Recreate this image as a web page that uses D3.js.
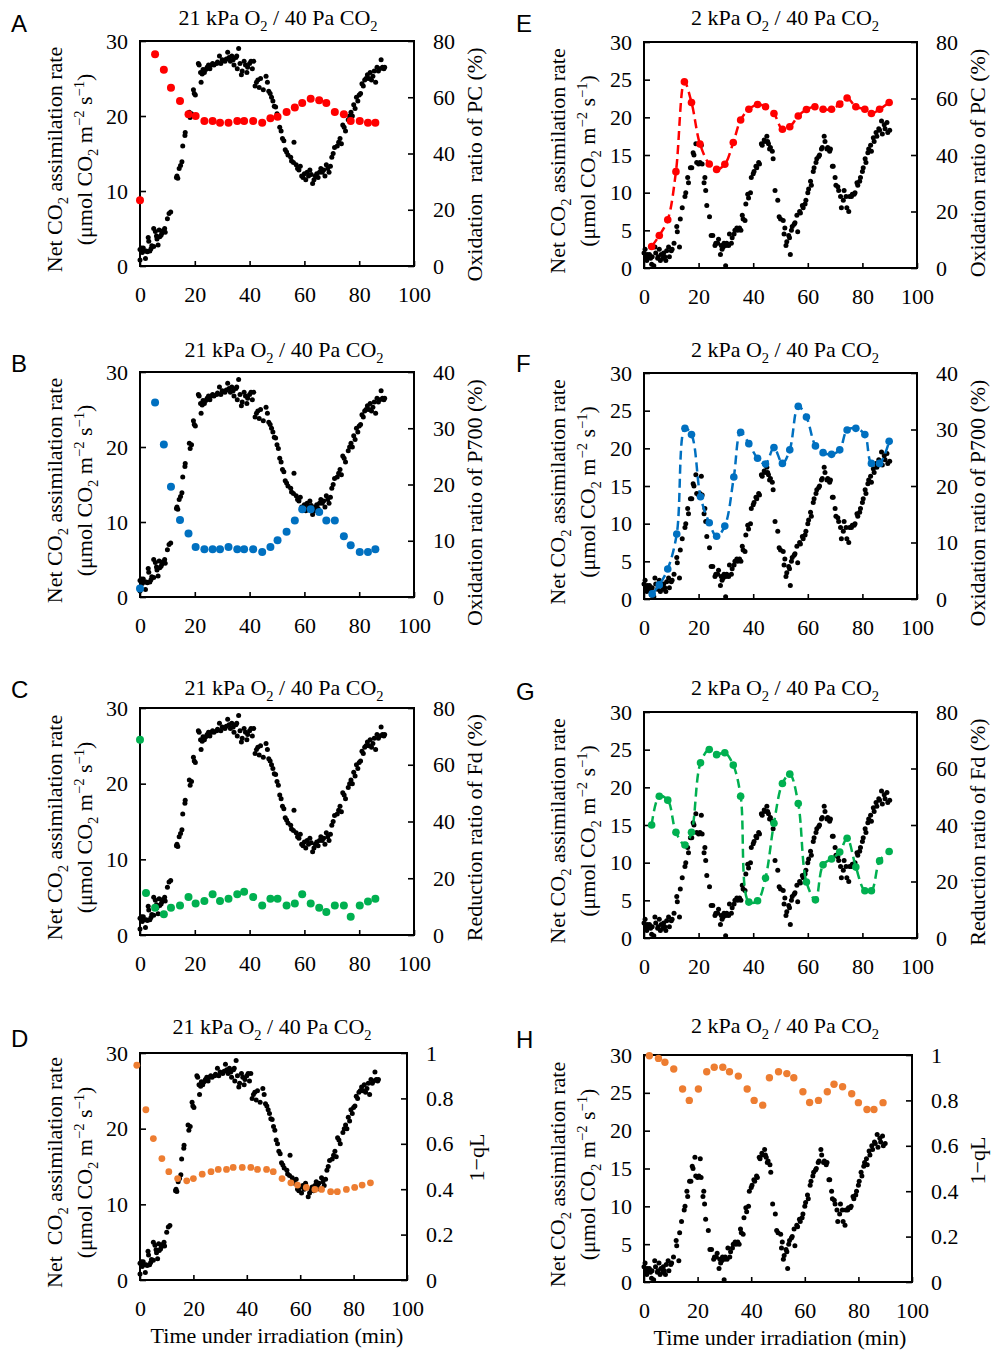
<!DOCTYPE html>
<html><head><meta charset="utf-8">
<script src="https://cdn.jsdelivr.net/npm/d3@7"></script>
<style>
body{margin:0;background:#fff}
svg{display:block}
text{font-family:"Liberation Serif","Times New Roman",serif;fill:#000;white-space:pre}
</style>
</head><body>
<svg id="c" width="1000" height="1355"></svg>
<script>
// ---------------- DATA ----------------
// Net CO2 assimilation, 21 kPa O2 (time min, µmol m-2 s-1)
const co2Air = [[0,0.8],[0,2.2],[0.5,2.4],[0.8,1.8],[1.2,2.4],[1.5,2.0],[2,1.0],[2.3,2.0],[2.7,1.9],[3,3.8],[3.2,3.3],[3.6,2.0],[4,2.3],[4.3,2.7],[5,5.0],[5,2.6],[5.6,4.6],[6,4.0],[6.2,3.6],[6.6,2.8],[7,4.8],[7.2,3.9],[7.7,4.1],[8,4.4],[8.4,4.7],[9,5.0],[9.2,4.5],[10,6.3],[10.6,7.0],[11.2,7.2],
[13.3,11.8],[13.5,12.0],[13.8,11.7],[14.3,13.0],[14.8,13.4],[15.3,13.9],[15.6,16.0],[16.4,17.4],[16.5,17.8],[18,20.5],[18.3,19.8],[18.8,20.3],[19.5,23.5],[19.8,23.0],[20.2,22.8],[21.3,27.0],[21.6,26.8],[22.1,25.8],[22.3,24.5],[22.7,25.6],[23,26.2],
[23.5,25.8],[24,26.2],[24.5,26.5],[25,26.8],[25.5,26.3],[26,26.8],[26.5,27.0],[27,26.8],[28,27.0],[28.3,27.2],[29,28.0],[29.5,27.0],[30,27.5],[31,27.3],[31.5,27.6],[32,28.5],[32.5,27.8],[33,27.3],[33.5,28.0],[34,27.5],[34.3,26.8],[35,27.8],[35.3,28.0],[35.5,26.3],[36,29.0],[36.5,27.0],[37,25.5],[37.3,26.0],[38,27.3],[38.5,26.8],[39,25.8],[39.3,26.5],[40,27.0],[40.5,27.3],[41,26.3],[41.5,27.3],
[42,24.0],[42.5,24.5],[43,24.8],[43.5,23.8],[44,25.0],[45,23.5],[46,25.3],[46.5,24.5],[47,23.3],[47.5,23.0],[48,22.5],[48.5,22.0],[49,21.3],[49.5,21.2],[50,20.3],[50.5,19.8],[51,18.5],[51.5,18.0],[52,17.0],[52.5,16.7],[53,15.5],[53.5,15.2],[54,14.8],[55,14.5],[55.3,14.0],[56,13.8],[56.2,16.5],[57,13.5],[57.5,13.0],[58,12.8],[58.5,13.3],[59,12.0],[59.5,11.8],[60,12.3],[60.5,11.5],
[61,12.5],[61.5,12.0],[62,12.8],[62.5,12.2],[63,11.0],[63.5,11.5],[64,12.0],[64.5,12.3],[65,11.8],[65.5,12.5],[66,13.0],[66.5,12.5],[67,12.8],[67.5,12.0],[68,13.5],[68.5,13.0],[69,12.5],[69.5,13.3],[70,14.5],[70.5,15.0],[71,15.8],[72,16.0],[72.5,16.5],[73,17.0],[73.5,16.3],[74,18.8],[74.5,18.5],[75,18.0],
[76,19.5],[76.5,20.0],[77,20.5],[77.5,20.0],[78,21.5],[78.5,21.0],[79,22.5],[79.5,22.0],[80,22.8],[80.5,23.0],[81,24.3],[81.5,24.0],[82,24.8],[82.5,25.0],[83,25.5],[83.5,25.0],[84,25.8],[84.5,24.8],[85,25.3],[85.5,26.0],[86,24.5],[86.5,26.5],[87,26.0],[87.5,26.3],[88,27.5],[88.5,26.5],[89,26.3],[89.3,26.5]];

// Net CO2 assimilation, 2 kPa O2
const co2Low = [[0,2.0],[0.4,2.5],[0.6,1.5],[1,1.0],[1.2,1.8],[1.6,1.5],[2,1.8],[2.4,1.3],[2.8,0.5],[3,1.5],[3.6,0.3],[4,2.8],[4.3,2.0],[5,1.3],[5.2,1.5],[5.6,2.5],[6,1.0],[6.3,1.8],[7,1.3],[7.2,2.0],[7.6,1.5],[8,1.0],[8.3,2.3],[9,2.8],[9.3,1.5],[10,2.3],[10.3,2.5],[11,3.3],[12,5.5],[12.2,4.8],[13,2.8],[13.3,6.5],[14,8.0],[15,9.5],[15.3,10.0],[16,12.0],[16.3,11.3],[17,13.3],[17.5,13.3],[18,15.3],[18.3,15.0],[19,16.5],[19.3,14.0],[20,13.8],[20.5,14.0],[21,16.3],[21.3,13.8],[22,11.3],[22.3,12.0],[22.6,10.3],[23,8.3],[24,6.8],[24.6,4.3],[25.2,4.3],[26,3.0],[26.3,3.3],[27,3.3],[27.3,3.8],[28,1.8],[28.3,3.0],[28.6,2.5],[29,2.8],[29.3,3.3],[29.9,0.3],[30,3.0],[30.3,3.3],[31,3.0],[31.3,4.5],[32,3.3],[32.3,4.0],[33,4.5],[33.3,5.0],[34,5.3],[34.3,5.0],[35,5.3],[35.5,5.0],[36,7.0],[36.3,6.5],[37,6.3],[37.3,8.5],[38,9.8],[38.3,9.3],[39,10.0],[39.3,12.0],[40,12.5],[40.3,12.8],[41,13.5],[41.3,13.3],[42,14.0],[42.3,13.8],[43,16.5],[43.3,16.3],[44,17.0],[44.3,16.8],[45,17.5],[45.3,16.8],[45.6,16.5],[46,15.8],[46.3,16.0],[47,15.5],[47.3,14.5],[48,10.3],[49,9.0],[49.5,6.8],[50,6.5],[51,6.3],[51.3,4.5],[51.6,5.3],[52,3.0],[52.3,3.5],[53,4.3],[53.3,4.0],[53.6,1.8],[54,5.0],[54.3,5.5],[55,5.8],[55.3,6.0],[56,7.0],[56.3,4.8],[57,7.5],[57.3,7.3],[58,8.3],[58.3,8.0],[59,8.5],[59.3,9.0],[60,10.0],[60.3,10.5],[61,11.5],[61.3,11.0],[62,12.8],[62.3,13.3],[63,14.0],[63.3,14.5],[64,14.8],[64.3,15.0],[65,15.8],[65.3,16.0],[66,17.5],[66.3,16.8],[67,15.8],[67.3,16.0],[68,15.5],[68.3,15.8],[69,13.5],[69.3,13.5],[70,12.0],[70.3,11.0],[71,10.8],[71.3,10.3],[72,9.5],[72.3,8.0],[73,9.0],[73.3,10.3],[74,9.5],[74.3,8.0],[75,7.5],[75.3,9.5],[76,9.5],[76.3,9.8],[77,9.8],[77.3,10.0],[78,11.3],[78.3,11.0],[79,11.5],[79.3,12.0],[80,12.8],[80.3,13.3],[81,14.5],[81.3,14.0],[82,15.3],[82.3,15.8],[83,16.3],[83.3,15.5],[84,17.3],[84.3,16.8],[85,18.0],[85.3,17.5],[86,18.5],[86.3,18.3],[87,19.5],[87.3,17.8],[88,19.0],[88.3,18.5],[89,19.3],[89.3,18.0],[90,18.3]];

// Oxidation ratio of PC (%)
const pcAir = [[0,23.4],[5.5,75.3],[8.7,69.8],[11.3,63.4],[14.6,58.7],[17.7,54.0],[20.3,53.3],[23.5,51.6],[26.5,51.6],[29.2,50.9],[32.3,50.9],[35.5,51.6],[38,51.6],[41.3,51.6],[44.6,50.9],[47.6,52.5],[50.2,53.1],[53.5,54.8],[56.5,56.4],[59.2,58.0],[62.3,59.5],[65.4,58.9],[68,58.0],[71.1,54.8],[74.4,54.0],[76.9,51.6],[80.2,51.6],[83.2,50.9],[85.9,50.9]];
const pcLow = [[2.8,7.6],[5.6,11.5],[8.7,17.1],[11.7,34.1],[14.8,65.9],[17.4,58.6],[20.5,43.9],[23.9,36.8],[26.6,34.9],[29.6,36.7],[32.7,44.4],[35.4,52.4],[38.4,56.2],[41.6,57.9],[44.5,57.1],[47.6,54.7],[50.7,49.1],[53.4,50.0],[56.5,53.8],[59.5,56.1],[62.6,57.1],[65.6,56.2],[68.7,56.2],[71.7,58.0],[74.4,60.2],[77.6,57.1],[80.9,56.2],[83.3,54.7],[86.3,56.2],[89.8,58.6]];

// Oxidation ratio of P700 (%)
const p700Air = [[0,1.5],[5.5,34.6],[8.7,27.1],[11.3,19.6],[14.6,13.7],[17.7,11.3],[20.3,8.9],[23.5,8.5],[26.5,8.5],[29.2,8.5],[32.3,8.9],[35.5,8.5],[38,8.5],[41.3,8.5],[44.6,8.0],[47.6,8.9],[50.2,10.1],[53.5,11.6],[56.5,13.6],[59.2,15.6],[62.3,15.6],[65.4,15.1],[68,13.6],[71.1,13.6],[74.4,10.8],[76.9,9.2],[80.2,8.0],[83.2,8.0],[85.9,8.5]];
const p700Low = [[3,0.9],[5.6,2.5],[8.7,5.3],[12,11.5],[15,30.2],[17.4,29.1],[20.7,18.1],[23.9,13.5],[26.6,11.1],[29.6,12.9],[32.9,21.6],[35.4,29.5],[38.4,27.5],[41.6,24.9],[44.5,23.9],[47.6,26.8],[50.7,24.0],[53.4,26.4],[56.5,34.1],[59.5,32.2],[62.8,27.1],[65.6,25.9],[68.7,25.6],[71.7,26.4],[74.4,29.9],[77.6,30.2],[80.9,29.1],[83.3,24.0],[86.3,24.0],[89.8,27.9]];

// Reduction ratio of Fd (%)
const fdAir = [[0,68.8],[2.2,14.8],[5.5,9.6],[8.7,7.3],[11.3,9.6],[14.6,10.4],[17.7,13.4],[20.3,11.1],[23.5,12.0],[26.5,14.4],[29.2,12.0],[32.3,12.8],[35.5,14.4],[38,15.2],[41.3,13.4],[44.6,10.4],[47.6,12.8],[50.2,12.8],[53.5,10.4],[56.5,11.1],[59.2,14.4],[62.3,11.1],[65.4,9.6],[68,8.1],[71.1,10.4],[74.4,10.4],[76.9,6.4],[80.2,10.4],[83.2,11.8],[85.9,12.8]];
const fdLow = [[2.8,40.0],[5.6,50.2],[8.7,48.8],[11.7,37.4],[15,32.9],[17.4,37.4],[20.7,62.0],[23.9,66.7],[26.6,64.9],[29.6,65.6],[32.7,61.2],[35.4,50.2],[38.4,12.7],[41.6,13.2],[44.5,21.2],[47.6,40.6],[50.7,54.7],[53.4,58.0],[56.5,47.6],[59.5,19.8],[62.8,13.5],[65.6,25.9],[68.7,28.0],[71.7,30.4],[74.4,35.3],[77.6,25.1],[80.9,16.7],[83.3,16.7],[86.3,27.3],[89.8,30.6]];

// 1-qL
const qlAir = [[-1.2,0.946],[2.2,0.75],[5,0.623],[8.2,0.535],[10.8,0.477],[14.1,0.447],[17.5,0.437],[20,0.447],[23.3,0.466],[26.6,0.477],[29.3,0.487],[32.4,0.487],[34.9,0.496],[38.3,0.496],[41.5,0.496],[44,0.487],[47.4,0.487],[49.9,0.477],[53.2,0.447],[56.5,0.428],[59,0.418],[62.3,0.408],[65.5,0.399],[68,0.399],[71.4,0.389],[73.9,0.389],[77.3,0.399],[80.4,0.408],[83.2,0.418],[86.3,0.428]];
const qlLow = [[2,0.997],[5.4,0.985],[7.8,0.968],[11.1,0.938],[14.4,0.85],[16.9,0.8],[20.3,0.85],[23.4,0.926],[26.2,0.946],[29.4,0.946],[31.9,0.926],[35.2,0.907],[38.5,0.85],[41.1,0.8],[44.3,0.779],[46.8,0.9],[50.2,0.926],[53.3,0.918],[55.9,0.9],[59.3,0.838],[61.8,0.791],[65.1,0.8],[68.4,0.838],[70.9,0.871],[74.1,0.86],[77.5,0.829],[80,0.79],[83.2,0.76],[85.8,0.76],[89.2,0.79]];

// Tick values
const xTicks = [0,20,40,60,80,100];
const leftTicksAir = [0,10,20,30];
const leftTicksLow = [0,5,10,15,20,25,30];
const ticks80 = [0,20,40,60,80];
const ticks40 = [0,10,20,30,40];
const ticks1 = [0,0.2,0.4,0.6,0.8,1];

// Labels
const titleAir = "21 kPa O_{2} / 40 Pa CO_{2}";
const titleLow = "2 kPa O_{2} / 40 Pa CO_{2}";
const leftLine1 = "Net CO_{2} assimilation rate";
const leftLine1D = "Net  CO_{2} assimilation rate";
const leftLine2 = "(μmol CO_{2} m^{−2} s^{−1})";
const xTitle = "Time under irradiation (min)";

// ---------------- LAYOUT ----------------
const RED="#ff0000", BLUE="#0070c0", GREEN="#00b050", ORANGE="#ed7d31";
const panels = [
 {L:"A",x0:140,x1:414,y0:41,y1:266,co2:co2Air,lt:leftTicksAir,rt:ticks80,rmax:80,ser:pcAir,col:RED,r:4,line:false,
  title:titleAir,tx:278,ty:25,lx:11,ly:32,l1:leftLine1,l1x:62,l2x:92,rTitle:"Oxidation  ratio of PC (%)",rtx:482,rdy:11},
 {L:"B",x0:140,x1:414,y0:372,y1:597,co2:co2Air,lt:leftTicksAir,rt:ticks40,rmax:40,ser:p700Air,col:BLUE,r:4,line:false,
  title:titleAir,tx:284,ty:357,lx:11,ly:372,l1:leftLine1,l1x:62,l2x:92,rTitle:"Oxidation ratio of P700 (%)",rtx:482,rdy:18},
 {L:"C",x0:140,x1:414,y0:708,y1:935,co2:co2Air,lt:leftTicksAir,rt:ticks80,rmax:80,ser:fdAir,col:GREEN,r:4,line:false,
  title:titleAir,tx:284,ty:695,lx:11,ly:698,l1:leftLine1,l1x:62,l2x:92,rTitle:"Reduction ratio of Fd (%)",rtx:482,rdy:6},
 {L:"D",x0:140,x1:407,y0:1053,y1:1280,co2:co2Air,lt:leftTicksAir,rt:ticks1,rmax:1,ser:qlAir,col:ORANGE,r:3.4,line:false,
  title:titleAir,tx:272,ty:1034,lx:11,ly:1047,l1:leftLine1D,l1x:62,l2x:92,rTitle:"1−qL",rtx:484,rdy:-9,xt:true,xtx:277,xty:1343},
 {L:"E",x0:644,x1:917,y0:42,y1:268,co2:co2Low,lt:leftTicksLow,rt:ticks80,rmax:80,ser:pcLow,col:RED,r:3.8,line:true,
  title:titleLow,tx:785,ty:25,lx:516,ly:32,l1:leftLine1,l1x:565,l2x:595,rTitle:"Oxidation ratio of PC (%)",rtx:985,rdy:8},
 {L:"F",x0:644,x1:917,y0:373,y1:599,co2:co2Low,lt:leftTicksLow,rt:ticks40,rmax:40,ser:p700Low,col:BLUE,r:3.8,line:true,
  title:titleLow,tx:785,ty:357,lx:516,ly:372,l1:leftLine1,l1x:565,l2x:595,rTitle:"Oxidation ratio of P700 (%)",rtx:985,rdy:17},
 {L:"G",x0:644,x1:917,y0:712,y1:938,co2:co2Low,lt:leftTicksLow,rt:ticks80,rmax:80,ser:fdLow,col:GREEN,r:3.8,line:true,
  title:titleLow,tx:785,ty:695,lx:516,ly:700,l1:leftLine1,l1x:565,l2x:595,rTitle:"Reduction ratio of Fd (%)",rtx:985,rdy:7},
 {L:"H",x0:644,x1:912,y0:1055,y1:1282,co2:co2Low,lt:leftTicksLow,rt:ticks1,rmax:1,ser:qlLow,col:ORANGE,r:3.7,line:false,
  title:titleLow,tx:785,ty:1033,lx:516,ly:1048,l1:leftLine1,l1x:565,l2x:595,rTitle:"1−qL",rtx:985,rdy:-8,xt:true,xtx:780,xty:1345}
];

const FS = 22;
const svg = d3.select("#c");

function rich(sel, str, fs){
  const re=/([_^])\{([^}]*)\}/g; let last=0,m,parts=[];
  while((m=re.exec(str))){ if(m.index>last) parts.push({t:str.slice(last,m.index),k:"n"});
    parts.push({t:m[2],k:m[1]==="_"?"sub":"sup"}); last=re.lastIndex; }
  if(last<str.length) parts.push({t:str.slice(last),k:"n"});
  let cur=0;
  parts.forEach(p=>{
    const target = p.k==="sub"? fs*0.28 : p.k==="sup"? -fs*0.38 : 0;
    sel.append("tspan").attr("dy",target-cur).attr("font-size",p.k==="n"?fs:fs*0.66).text(p.t);
    cur=target;
  });
}

panels.forEach(p=>{
  const g = svg.append("g");
  const x = d3.scaleLinear([0,100],[p.x0,p.x1]);
  const yL = d3.scaleLinear([0,30],[p.y1,p.y0]);
  const yR = d3.scaleLinear([0,p.rmax],[p.y1,p.y0]);

  // box
  g.append("rect").attr("x",p.x0).attr("y",p.y0).attr("width",p.x1-p.x0).attr("height",p.y1-p.y0)
   .attr("fill","none").attr("stroke","#000").attr("stroke-width",2);

  // axes (inward ticks)
  const ax = g.append("g").attr("transform",`translate(${p.x0},0)`)
    .call(d3.axisLeft(yL).tickValues(p.lt).tickSizeInner(-6).tickSizeOuter(0).tickPadding(12).tickFormat(d3.format("d")));
  const ar = g.append("g").attr("transform",`translate(${p.x1},0)`)
    .call(d3.axisRight(yR).tickValues(p.rt).tickSizeInner(-6).tickSizeOuter(0).tickPadding(19).tickFormat(d=>String(+d.toFixed(1))));
  const ab = g.append("g").attr("transform",`translate(0,${p.y1})`)
    .call(d3.axisBottom(x).tickValues(xTicks).tickSizeInner(-5).tickSizeOuter(0).tickPadding(20).tickFormat(d3.format("d")));
  [ax,ar,ab].forEach(a=>{
    a.select(".domain").remove();
    a.selectAll("line").attr("stroke","#000").attr("stroke-width",1.6);
    a.selectAll("text").attr("font-family","Liberation Serif, Times New Roman, serif").attr("font-size",FS).attr("fill","#000");
  });

  // black CO2 dots
  g.append("g").selectAll("circle").data(p.co2).join("circle")
    .attr("cx",d=>x(d[0])).attr("cy",d=>yL(d[1])).attr("r",2.5).attr("fill","#000");

  // colored series
  if(p.line){
    g.append("path").datum(p.ser)
      .attr("d",d3.line().x(d=>x(d[0])).y(d=>yR(d[1])).curve(d3.curveCatmullRom.alpha(0.5)))
      .attr("fill","none").attr("stroke",p.col).attr("stroke-width",2.5).attr("stroke-dasharray","9,5");
  }
  g.append("g").selectAll("circle").data(p.ser).join("circle")
    .attr("cx",d=>x(d[0])).attr("cy",d=>yR(d[1])).attr("r",p.r).attr("fill",p.col);

  // title
  const t = g.append("text").attr("x",p.tx).attr("y",p.ty).attr("text-anchor","middle").attr("font-size",FS);
  rich(t,p.title,FS);

  // panel letter
  g.append("text").attr("x",p.lx).attr("y",p.ly)
    .attr("font-size",24).style("font-family","Liberation Sans, Arial, sans-serif").text(p.L);

  // left axis titles
  const cy = (p.y0+p.y1)/2 + 6;
  const t1 = g.append("text").attr("transform",`translate(${p.l1x},${cy}) rotate(-90)`).attr("text-anchor","middle").attr("font-size",FS);
  rich(t1,p.l1,FS);
  const t2 = g.append("text").attr("transform",`translate(${p.l2x},${cy}) rotate(-90)`).attr("text-anchor","middle").attr("font-size",FS);
  rich(t2,leftLine2,FS);

  // right axis title
  const ry = (p.y0+p.y1)/2 + p.rdy;
  g.append("text").attr("transform",`translate(${p.rtx},${ry}) rotate(-90)`).attr("text-anchor","middle")
    .attr("font-size",FS).text(p.rTitle);

  // x title
  if(p.xt){
    g.append("text").attr("x",p.xtx).attr("y",p.xty).attr("text-anchor","middle").attr("font-size",FS).text(xTitle);
  }
});
</script>
</body></html>
